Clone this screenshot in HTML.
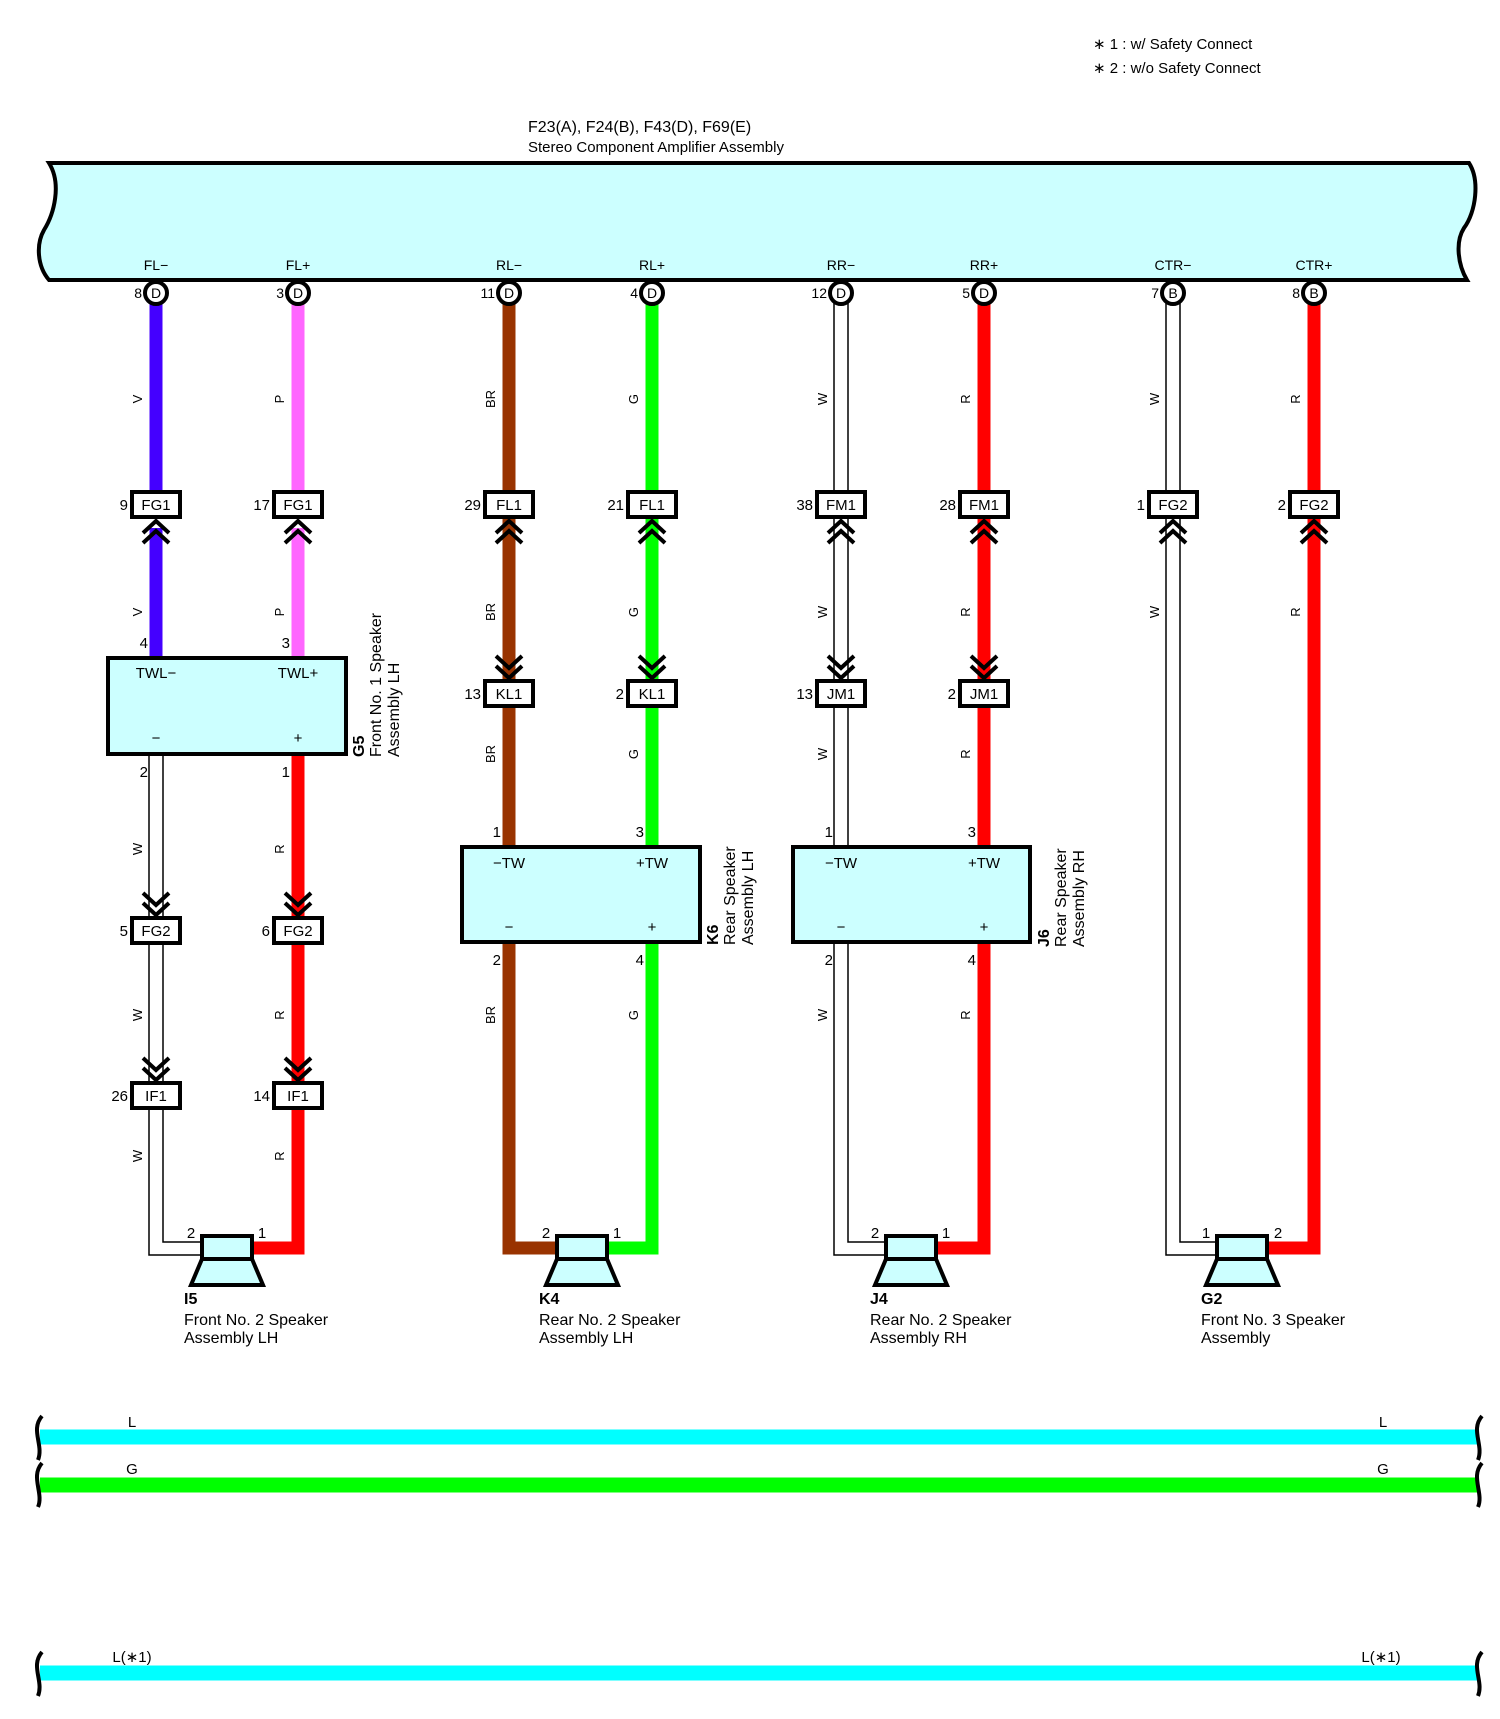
<!DOCTYPE html>
<html><head><meta charset="utf-8"><style>
html,body{margin:0;padding:0;background:#fff}
svg{display:block}
text{font-family:"Liberation Sans",sans-serif;fill:#000}
</style></head><body>
<svg width="1500" height="1719" viewBox="0 0 1500 1719" xmlns="http://www.w3.org/2000/svg">
<defs>
<path id="cu" d="M-13,12 L0,0 L13,12 M-13,22 L0,10 L13,22" stroke="#000" stroke-width="4" fill="none"/>
<path id="cd" d="M-13,-12 L0,0 L13,-12 M-13,-22 L0,-10 L13,-22" stroke="#000" stroke-width="4" fill="none"/>
<g id="spk"><rect x="-25" y="0" width="50" height="23" fill="#ccffff" stroke="#000" stroke-width="4"/><path d="M-25,23 L25,23 L36,49 L-36,49 Z" fill="#ccffff" stroke="#000" stroke-width="4" stroke-linejoin="miter"/></g>
</defs>

<!-- legend -->
<text x="1093" y="49" font-size="15">∗ 1 : w/ Safety Connect</text>
<text x="1093" y="73" font-size="15">∗ 2 : w/o Safety Connect</text>
<text x="528" y="132" font-size="16">F23(A), F24(B), F43(D), F69(E)</text>
<text x="528" y="152" font-size="15">Stereo Component Amplifier Assembly</text>

<!-- amplifier -->
<path d="M49,163 L1469,163 C1480,180 1476,212 1464,228 C1455,242 1458,265 1467,280 L49,280 C37,266 36,244 44,230 C54,214 62,184 49,163 Z" fill="#ccffff" stroke="#000" stroke-width="4"/>
<g font-size="14" text-anchor="middle">
<text x="156" y="270">FL−</text><text x="298" y="270">FL+</text>
<text x="509" y="270">RL−</text><text x="652" y="270">RL+</text>
<text x="841" y="270">RR−</text><text x="984" y="270">RR+</text>
<text x="1173" y="270">CTR−</text><text x="1314" y="270">CTR+</text>
</g>

<!-- wires colored -->
<g fill="none" stroke-width="13" stroke-linejoin="miter">
<line x1="156" y1="300" x2="156" y2="493" stroke="#4400ff"/>
<line x1="156" y1="528" x2="156" y2="657" stroke="#4400ff"/>
<line x1="298" y1="300" x2="298" y2="493" stroke="#ff66ff"/>
<line x1="298" y1="528" x2="298" y2="657" stroke="#ff66ff"/>
<polyline points="298,754 298,1248 252,1248" stroke="#ff0000"/>
<line x1="509" y1="300" x2="509" y2="846" stroke="#993300"/>
<polyline points="509,942 509,1248 557,1248" stroke="#993300"/>
<line x1="652" y1="300" x2="652" y2="846" stroke="#00ff00"/>
<polyline points="652,942 652,1248 607,1248" stroke="#00ff00"/>
<line x1="984" y1="300" x2="984" y2="846" stroke="#ff0000"/>
<polyline points="984,942 984,1248 936,1248" stroke="#ff0000"/>
<polyline points="1314,300 1314,1248 1267,1248" stroke="#ff0000"/>
</g>
<!-- white wires -->
<g stroke="#000" stroke-width="1.5" fill="none">
<path d="M149,754 V918 M163,754 V918 M149,943 V1083 M163,943 V1083 M149,1109 V1255 H202 M163,1109 V1242 H202"/>
<path d="M834,300 V846 M848,300 V846 M834,942 V1255 H887 M848,942 V1242 H887"/>
<path d="M1166,300 V1255 H1217 M1180,300 V1242 H1217"/>
</g>

<!-- pin circles -->
<g fill="#fff" stroke="#000" stroke-width="4">
<circle cx="156" cy="293" r="11"/><circle cx="298" cy="293" r="11"/>
<circle cx="509" cy="293" r="11"/><circle cx="652" cy="293" r="11"/>
<circle cx="841" cy="293" r="11"/><circle cx="984" cy="293" r="11"/>
<circle cx="1173" cy="293" r="11"/><circle cx="1314" cy="293" r="11"/>
</g>
<g font-size="14" text-anchor="middle">
<text x="156" y="298">D</text><text x="298" y="298">D</text><text x="509" y="298">D</text><text x="652" y="298">D</text>
<text x="841" y="298">D</text><text x="984" y="298">D</text><text x="1173" y="298">B</text><text x="1314" y="298">B</text>
</g>
<g font-size="14" text-anchor="end">
<text x="142" y="298">8</text><text x="284" y="298">3</text><text x="495" y="298">11</text><text x="638" y="298">4</text>
<text x="827" y="298">12</text><text x="970" y="298">5</text><text x="1159" y="298">7</text><text x="1300" y="298">8</text>
</g>

<!-- connector boxes row 505 -->
<g fill="#fff" stroke="#000" stroke-width="4">
<rect x="132" y="492" width="48" height="25"/><rect x="274" y="492" width="48" height="25"/>
<rect x="485" y="492" width="48" height="25"/><rect x="628" y="492" width="48" height="25"/>
<rect x="817" y="492" width="48" height="25"/><rect x="960" y="492" width="48" height="25"/>
<rect x="1149" y="492" width="48" height="25"/><rect x="1290" y="492" width="48" height="25"/>
<rect x="485" y="681" width="48" height="25"/><rect x="628" y="681" width="48" height="25"/>
<rect x="817" y="681" width="48" height="25"/><rect x="960" y="681" width="48" height="25"/>
<rect x="132" y="918" width="48" height="25"/><rect x="274" y="918" width="48" height="25"/>
<rect x="132" y="1083" width="48" height="25"/><rect x="274" y="1083" width="48" height="25"/>
</g>
<g font-size="15" text-anchor="middle">
<text x="156" y="510">FG1</text><text x="298" y="510">FG1</text><text x="509" y="510">FL1</text><text x="652" y="510">FL1</text>
<text x="841" y="510">FM1</text><text x="984" y="510">FM1</text><text x="1173" y="510">FG2</text><text x="1314" y="510">FG2</text>
<text x="509" y="699">KL1</text><text x="652" y="699">KL1</text><text x="841" y="699">JM1</text><text x="984" y="699">JM1</text>
<text x="156" y="936">FG2</text><text x="298" y="936">FG2</text>
<text x="156" y="1101">IF1</text><text x="298" y="1101">IF1</text>
</g>
<g font-size="15" text-anchor="end">
<text x="128" y="510">9</text><text x="270" y="510">17</text><text x="481" y="510">29</text><text x="624" y="510">21</text>
<text x="813" y="510">38</text><text x="956" y="510">28</text><text x="1145" y="510">1</text><text x="1286" y="510">2</text>
<text x="481" y="699">13</text><text x="624" y="699">2</text><text x="813" y="699">13</text><text x="956" y="699">2</text>
<text x="128" y="936">5</text><text x="270" y="936">6</text>
<text x="128" y="1101">26</text><text x="270" y="1101">14</text>
</g>
<!-- chevrons -->
<use href="#cu" x="156" y="521"/><use href="#cu" x="298" y="521"/><use href="#cu" x="509" y="521"/><use href="#cu" x="652" y="521"/>
<use href="#cu" x="841" y="521"/><use href="#cu" x="984" y="521"/><use href="#cu" x="1173" y="521"/><use href="#cu" x="1314" y="521"/>
<use href="#cd" x="509" y="678"/><use href="#cd" x="652" y="678"/><use href="#cd" x="841" y="678"/><use href="#cd" x="984" y="678"/>
<use href="#cd" x="156" y="915"/><use href="#cd" x="298" y="915"/>
<use href="#cd" x="156" y="1080"/><use href="#cd" x="298" y="1080"/>

<!-- component boxes -->
<g fill="#ccffff" stroke="#000" stroke-width="4">
<rect x="108" y="658" width="238" height="96"/>
<rect x="462" y="847" width="238" height="95"/>
<rect x="793" y="847" width="237" height="95"/>
</g>
<g font-size="15" text-anchor="middle">
<text x="156" y="678">TWL−</text><text x="298" y="678">TWL+</text><text x="156" y="743">−</text><text x="298" y="743">+</text>
<text x="509" y="868">−TW</text><text x="652" y="868">+TW</text><text x="509" y="932">−</text><text x="652" y="932">+</text>
<text x="841" y="868">−TW</text><text x="984" y="868">+TW</text><text x="841" y="932">−</text><text x="984" y="932">+</text>
</g>
<g font-size="15" text-anchor="end">
<text x="148" y="648">4</text><text x="290" y="648">3</text><text x="148" y="777">2</text><text x="290" y="777">1</text>
<text x="501" y="837">1</text><text x="644" y="837">3</text><text x="501" y="965">2</text><text x="644" y="965">4</text>
<text x="833" y="837">1</text><text x="976" y="837">3</text><text x="833" y="965">2</text><text x="976" y="965">4</text>
</g>
<!-- rotated component labels -->
<g font-size="16">
<text transform="translate(364,757) rotate(-90)" font-weight="bold">G5</text>
<text transform="translate(381,757) rotate(-90)">Front No.  1 Speaker</text>
<text transform="translate(399,757) rotate(-90)">Assembly LH</text>
<text transform="translate(718,945) rotate(-90)" font-weight="bold">K6</text>
<text transform="translate(735,945) rotate(-90)">Rear Speaker</text>
<text transform="translate(753,945) rotate(-90)">Assembly LH</text>
<text transform="translate(1049,947) rotate(-90)" font-weight="bold">J6</text>
<text transform="translate(1066,947) rotate(-90)">Rear Speaker</text>
<text transform="translate(1084,947) rotate(-90)">Assembly RH</text>
</g>

<!-- wire color labels -->
<g font-size="13" text-anchor="middle">
<text transform="translate(142,399) rotate(-90)">V</text>
<text transform="translate(284,399) rotate(-90)">P</text>
<text transform="translate(495,399) rotate(-90)">BR</text>
<text transform="translate(638,399) rotate(-90)">G</text>
<text transform="translate(827,399) rotate(-90)">W</text>
<text transform="translate(970,399) rotate(-90)">R</text>
<text transform="translate(1159,399) rotate(-90)">W</text>
<text transform="translate(1300,399) rotate(-90)">R</text>
<text transform="translate(142,612) rotate(-90)">V</text>
<text transform="translate(284,612) rotate(-90)">P</text>
<text transform="translate(495,612) rotate(-90)">BR</text>
<text transform="translate(638,612) rotate(-90)">G</text>
<text transform="translate(827,612) rotate(-90)">W</text>
<text transform="translate(970,612) rotate(-90)">R</text>
<text transform="translate(1159,612) rotate(-90)">W</text>
<text transform="translate(1300,612) rotate(-90)">R</text>
<text transform="translate(495,754) rotate(-90)">BR</text>
<text transform="translate(638,754) rotate(-90)">G</text>
<text transform="translate(827,754) rotate(-90)">W</text>
<text transform="translate(970,754) rotate(-90)">R</text>
<text transform="translate(142,849) rotate(-90)">W</text>
<text transform="translate(284,849) rotate(-90)">R</text>
<text transform="translate(495,1015) rotate(-90)">BR</text>
<text transform="translate(638,1015) rotate(-90)">G</text>
<text transform="translate(827,1015) rotate(-90)">W</text>
<text transform="translate(970,1015) rotate(-90)">R</text>
<text transform="translate(142,1015) rotate(-90)">W</text>
<text transform="translate(284,1015) rotate(-90)">R</text>
<text transform="translate(142,1156) rotate(-90)">W</text>
<text transform="translate(284,1156) rotate(-90)">R</text>
</g>

<!-- speakers -->
<use href="#spk" x="227" y="1236"/><use href="#spk" x="582" y="1236"/>
<use href="#spk" x="911" y="1236"/><use href="#spk" x="1242" y="1236"/>
<g font-size="15" text-anchor="middle">
<text x="191" y="1238">2</text><text x="262" y="1238">1</text>
<text x="546" y="1238">2</text><text x="617" y="1238">1</text>
<text x="875" y="1238">2</text><text x="946" y="1238">1</text>
<text x="1206" y="1238">1</text><text x="1278" y="1238">2</text>
</g>
<g font-size="16">
<text x="184" y="1304" font-weight="bold">I5</text><text x="184" y="1325">Front No.  2 Speaker</text><text x="184" y="1343">Assembly LH</text>
<text x="539" y="1304" font-weight="bold">K4</text><text x="539" y="1325">Rear No.  2 Speaker</text><text x="539" y="1343">Assembly LH</text>
<text x="870" y="1304" font-weight="bold">J4</text><text x="870" y="1325">Rear No.  2 Speaker</text><text x="870" y="1343">Assembly RH</text>
<text x="1201" y="1304" font-weight="bold">G2</text><text x="1201" y="1325">Front No.  3 Speaker</text><text x="1201" y="1343">Assembly</text>
</g>

<!-- bottom lines -->
<g stroke-width="15">
<line x1="40" y1="1437" x2="1478" y2="1437" stroke="#00ffff"/>
<line x1="40" y1="1485" x2="1478" y2="1485" stroke="#00ff00"/>
<line x1="40" y1="1673" x2="1478" y2="1673" stroke="#00ffff"/>
</g>
<g stroke="#000" stroke-width="4" fill="none">
<path d="M42,1416 C30,1430 44,1445 38,1460"/>
<path d="M42,1463 C30,1477 44,1493 38,1507"/>
<path d="M42,1652 C30,1666 44,1681 38,1696"/>
<path d="M1482,1416 C1470,1430 1484,1445 1478,1460"/>
<path d="M1482,1463 C1470,1477 1484,1493 1478,1507"/>
<path d="M1482,1652 C1470,1666 1484,1681 1478,1696"/>
</g>
<g font-size="15" text-anchor="middle">
<text x="132" y="1427">L</text><text x="1383" y="1427">L</text>
<text x="132" y="1474">G</text><text x="1383" y="1474">G</text>
<text x="132" y="1662">L(∗1)</text><text x="1381" y="1662">L(∗1)</text>
</g>
</svg>
</body></html>
